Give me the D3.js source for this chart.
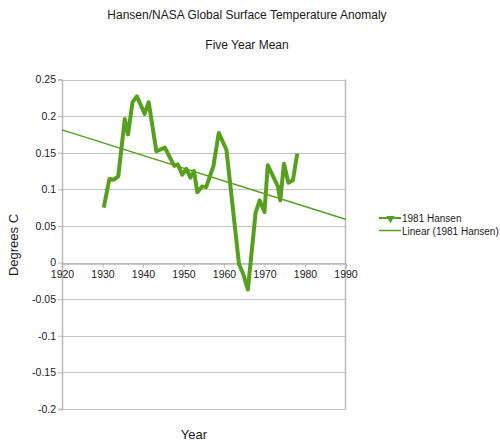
<!DOCTYPE html>
<html>
<head>
<meta charset="utf-8">
<script src="https://cdn.jsdelivr.net/npm/d3@7"></script>
<style>
  body { margin: 0; background: #fff; }
  text { font-family: "Liberation Sans", Arial, sans-serif; fill: #1a1a1a; }
</style>
</head>
<body>
<div id="chart"></div>
<script>
 //years and five year mean values
 var years = [1930.3, 1931.7, 1932.8, 1933.9, 1935.5, 1936.3, 1937.4, 1938.5, 1940.4, 1941.4,
     1943.3, 1945.4, 1947.7, 1948.6, 1949.7, 1950.7, 1951.7, 1952.6, 1953.4, 1954.6,
     1955.6, 1957.4, 1958.7, 1960.6, 1963.7, 1964.7, 1965.9, 1967.8, 1968.8, 1970.0,
     1970.8, 1973.3, 1973.9, 1974.8, 1975.9, 1977.0, 1978.1];
 var anomaly = [0.075, 0.114, 0.113, 0.118, 0.196, 0.175, 0.219, 0.227, 0.203, 0.219,
     0.152, 0.157, 0.132, 0.134, 0.120, 0.128, 0.116, 0.125, 0.096, 0.104,
     0.103, 0.132, 0.177, 0.154, -0.002, -0.015, -0.037, 0.068, 0.085, 0.069,
     0.133, 0.104, 0.085, 0.135, 0.109, 0.112, 0.149];

 //axis ticks
 var xTicks = [1920, 1930, 1940, 1950, 1960, 1970, 1980, 1990];
 var yTicks = [0.25, 0.2, 0.15, 0.1, 0.05, 0, -0.05, -0.1, -0.15, -0.2];

 var seriesName = "1981 Hansen";
 var trendName = "Linear (1981 Hansen)";

 var width = 500, height = 448;
 var green = "#56a01e";

 var svg = d3.select("#chart")
     .append("svg")
     .attr("width", width)
     .attr("height", height);

 //scales for the plot area
 var xScale = d3.scaleLinear().domain([1920, 1990]).range([62, 345.5]);
 var yScale = d3.scaleLinear().domain([-0.2, 0.25]).range([409, 79.5]);

 //horizontal grid lines
 svg.append("g")
     .selectAll("line")
     .data(yTicks)
     .enter()
     .append("line")
     .attr("x1", 62)
     .attr("x2", 345.5)
     .attr("y1", function (d) { return Math.round(yScale(d)) + 0.5; })
     .attr("y2", function (d) { return Math.round(yScale(d)) + 0.5; })
     .attr("stroke", "#c4c4c4")
     .attr("stroke-width", 1.2);

 //right border
 svg.append("line")
     .attr("x1", 345.5).attr("x2", 345.5)
     .attr("y1", yScale(0.25)).attr("y2", yScale(-0.2) + 0.5)
     .attr("stroke", "#b8b8b8")
     .attr("stroke-width", 1.5);

 //y axis
 var yAxis = d3.axisLeft(yScale)
     .tickValues(yTicks)
     .tickSize(4)
     .tickFormat(function (d) { return String(+d.toFixed(2)); });

 var gy = svg.append("g")
     .attr("transform", "translate(62,0)")
     .call(yAxis);
 gy.select(".domain").attr("stroke", "#b8b8b8").attr("stroke-width", 1.5);
 gy.selectAll(".tick line").attr("stroke", "#b8b8b8");
 gy.selectAll(".tick text")
     .attr("x", -6)
     .attr("font-size", "10.5px")
     .attr("font-family", "Liberation Sans, Arial, sans-serif")
     .attr("fill", "#1a1a1a");

 //x axis sits on the zero line
 var xAxis = d3.axisBottom(xScale)
     .tickValues(xTicks)
     .tickSize(4)
     .tickFormat(d3.format("d"));

 var gx = svg.append("g")
     .attr("transform", "translate(0," + (Math.round(yScale(0)) + 0.5) + ")")
     .call(xAxis);
 gx.select(".domain").attr("stroke", "#b8b8b8").attr("stroke-width", 1.5);
 gx.selectAll(".tick line").attr("stroke", "#b8b8b8");
 gx.selectAll(".tick text")
     .attr("y", 7)
     .attr("font-size", "10.5px")
     .attr("font-family", "Liberation Sans, Arial, sans-serif")
     .attr("fill", "#1a1a1a");

 //build points
 var data = years.map(function (y, i) {
     return { year: y, value: anomaly[i] };
 });

 //least squares trend line
 var mx = d3.mean(data, function (d) { return d.year; });
 var my = d3.mean(data, function (d) { return d.value; });
 var sxy = d3.sum(data, function (d) { return (d.year - mx) * (d.value - my); });
 var sxx = d3.sum(data, function (d) { return (d.year - mx) * (d.year - mx); });
 var slope = sxy / sxx;
 var trend = [1920, 1990].map(function (y) {
     return { year: y, value: my + slope * (y - mx) };
 });

 var line = d3.line()
     .x(function (d) { return xScale(d.year); })
     .y(function (d) { return yScale(d.value); });

 svg.append("path")
     .datum(data)
     .attr("fill", "none")
     .attr("stroke", green)
     .attr("stroke-width", 4)
     .attr("stroke-linejoin", "round")
     .attr("d", line);

 svg.append("path")
     .datum(trend)
     .attr("fill", "none")
     .attr("stroke", green)
     .attr("stroke-width", 1.5)
     .attr("d", line);

 //titles
 svg.append("text")
     .attr("x", 247)
     .attr("y", 19)
     .attr("text-anchor", "middle")
     .attr("font-size", "12px")
     .text("Hansen/NASA Global Surface Temperature Anomaly");

 svg.append("text")
     .attr("x", 247)
     .attr("y", 49)
     .attr("text-anchor", "middle")
     .attr("font-size", "12px")
     .text("Five Year Mean");

 svg.append("text")
     .attr("transform", "translate(18,245) rotate(-90)")
     .attr("text-anchor", "middle")
     .attr("font-size", "13px")
     .text("Degrees C");

 svg.append("text")
     .attr("x", 194)
     .attr("y", 439)
     .attr("text-anchor", "middle")
     .attr("font-size", "13px")
     .text("Year");

 //legend
 var legend = svg.append("g");
 legend.append("line")
     .attr("x1", 379).attr("x2", 401)
     .attr("y1", 218).attr("y2", 218)
     .attr("stroke", green).attr("stroke-width", 2);
 legend.append("path")
     .attr("d", d3.symbol().type(d3.symbolTriangle).size(30))
     .attr("transform", "translate(390.5,218.5) rotate(180)")
     .attr("fill", green);
 legend.append("text")
     .attr("x", 402).attr("y", 222)
     .attr("font-size", "10px")
     .text(seriesName);

 legend.append("line")
     .attr("x1", 379).attr("x2", 401)
     .attr("y1", 230.5).attr("y2", 230.5)
     .attr("stroke", green).attr("stroke-width", 1.5);
 legend.append("text")
     .attr("x", 402).attr("y", 234.5)
     .attr("font-size", "10px")
     .text(trendName);
</script>
</body>
</html>
